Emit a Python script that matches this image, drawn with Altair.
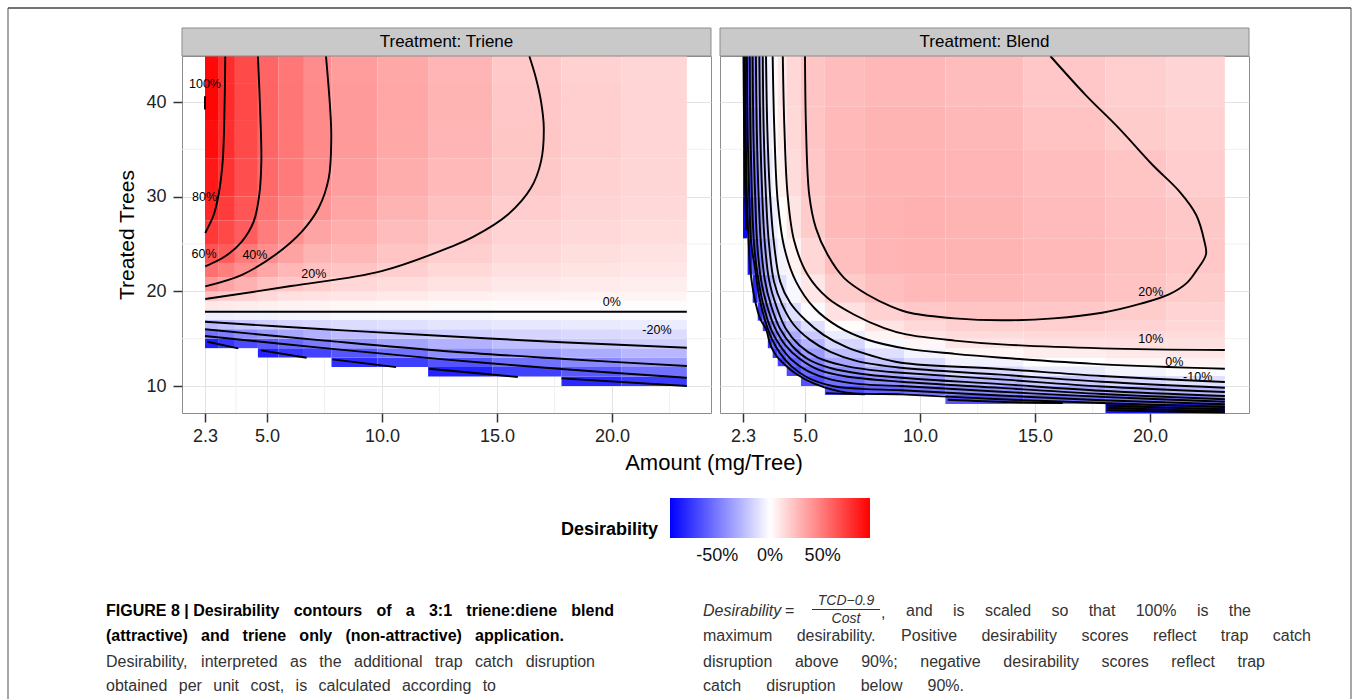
import altair as alt
import pandas as pd

N = None
# ------------------------------------------------------------------ data
X_TICKS = [2.3, 5.0, 10.0, 15.0, 20.0]
Y_TICKS = [10, 20, 30, 40]
X_MINOR = [3.65, 7.5, 12.5, 17.5, 22.5]
Y_MINOR = [15, 25, 35]
X_DOMAIN = [1.3, 24.3]
Y_DOMAIN = [7.15, 44.86]
COLOR_DOMAIN = [-95, 0, 95]
LEGEND_VALUES = [-50, 0, 50]

# Triene desirability (%), rows bottom -> top
TRIENE_X_EDGES = [2.3, 2.9, 3.6, 4.6, 5.5, 6.6, 7.8, 9.8, 12.0, 14.8, 17.8, 20.4, 23.25]
TRIENE_Y_EDGES = [10, 11, 12, 13, 14, 15, 16, 17, 18, 19, 20, 21.5, 23, 25, 27.5, 30, 34, 38, 42, 44.86]
TRIENE_VALUES = [
    [N, N, N, N, N, N, N, N, N, N, -80, -73],
    [N, N, N, N, N, N, N, N, -82, -71, -62, -53],
    [N, N, N, N, N, N, -78, -72, -64, -53, -44, -38],
    [N, N, N, -82, -75, -70, -63, -53, -42, -36, -31, -27],
    [-83, -75, -67, -62, -56, -49, -40, -34, -29, -24, -20, -18],
    [-52, -48, -42, -37, -33, -29, -25, -20, -18, -16, -14, -13],
    [-26, -23, -20, -18, -16, -15, -13, -12, -10, -9, -8, -7],
    [-6, -6, -5, -5, -4, -4, -3, -3, -3, -2, -2, -2],
    [9, 8, 7, 5.5, 5, 4, 3.5, 2.5, 2, 1.6, 1.4, 1.2],
    [23, 20, 17, 14, 12, 10.5, 9.5, 8, 6, 5, 4.3, 3.8],
    [40, 34, 29, 23.5, 21, 18, 15, 12.5, 10.5, 8.5, 7.3, 6.4],
    [53, 48, 41.5, 33, 27, 23, 21.5, 18, 14.5, 11.5, 10, 8.8],
    [64, 61, 50, 42, 34.5, 28, 26.5, 21.5, 18.4, 14, 12.2, 10.8],
    [74, 68, 60.5, 48.5, 41.5, 34, 30.5, 25, 21, 16.5, 14.3, 12.6],
    [81, 73, 63.5, 53, 46, 40, 33.5, 28, 23.5, 18.8, 16, 14],
    [86, 76, 66, 56, 49, 42.5, 36, 31, 26, 20.5, 17.3, 15.2],
    [90, 78, 67.5, 57.5, 50.5, 43.5, 37.5, 32.5, 27.5, 21.2, 18, 15.8],
    [93, 79, 68, 58, 51, 43.5, 37.5, 33, 27.8, 21, 17.8, 15.6],
    [92, 78.5, 67.5, 57.5, 50.5, 43, 37, 32.5, 27.5, 20.3, 17.3, 15.2],
]

# Blend desirability (%), rows bottom -> top
BLEND_X_EDGES = [2.3, 2.5, 2.72, 2.94, 3.16, 3.38, 3.59, 3.81, 4.2, 4.82, 5.86, 7.6, 9.3, 11.1, 14.5, 18.06, 20.7, 23.25]
BLEND_Y_EDGES = [7.15, 8.1, 9.05, 10.0, 11.06, 12.1, 12.96, 14.0, 15.0, 15.8, 16.9, 18.8, 21.75, 25.6, 30.0, 35.0, 39.5, 44.86]
BLEND_VALUES = [
    [N] * 15 + [-88, -85],
    [N] * 13 + [-63, -55, -52, -48],
    [N] * 10 + [-66, -58, -52, -43, -35, -30, -26],
    [N] * 9 + [-65, -53, -43, -36, -27, -20, -15, -11],
    [N] * 8 + [-67, -55, -42, -31, -23, -14, -8, -4, -1],
    [N] * 7 + [-70, -58, -46, -33, -21, -13, -5, 0, 3, 5],
    [N] * 6 + [-72, -60, -49, -37, -24, -12, -4, 3, 7, 8.5, 9],
    [N] * 5 + [-75, -62, -51, -40, -28, -15, -3, 3, 9.5, 11.5, 12, 11.5],
    [N] * 5 + [-65, -53, -42, -31, -20, -7, 4, 10, 13.5, 14.5, 14, 13.5],
    [N] * 4 + [-70, -55, -44, -33, -23, -12, 1, 10, 14, 17.5, 18, 16.5, 15],
    [N] * 3 + [-75, -57, -43, -32, -22, -12, -2, 11, 17, 20, 21.5, 21, 19, 16.5],
    [N] * 2 + [-80, -60, -44, -31, -21, -12, -3, 9, 19, 24, 26, 26.5, 25, 22.5, 19],
    [N] + [-85, -65, -48, -33, -21, -12, -4, 5, 15, 24, 27.5, 28.5, 28, 26, 23.5, 21],
    [-92, -74, -55, -40, -26, -14, -6, 1, 10, 19, 26, 28.5, 29, 28, 25.5, 23, 20.5],
    [-88, -67, -49, -34, -19, -9, -2, 5.5, 13, 21, 26.5, 28.5, 28.5, 27.5, 24.5, 21.5, 18.5],
    [-82, -61, -44, -30, -15, -6, 1, 8, 14.5, 21.5, 26, 28, 28, 26.5, 22.5, 19, 17],
    [-78, -59, -42, -28, -12, -4, 2, 9, 14.8, 21.5, 25, 27, 27, 25, 21, 18, 16],
]

# contour lines (amount, trees)
TRIENE_LINES = {
    "100": [(2.3, 40.6), (2.3, 39.2)],
    "80": [(3.18, 44.86), (3.16, 40.76), (3.07, 33.76), (2.89, 30.2), (2.68, 28.09), (2.31, 26.16)],
    "60": [(4.60, 44.86), (4.70, 39.0), (4.75, 33.73), (4.66, 30.2), (4.42, 27.39), (3.91, 25.28), (3.18, 23.7), (2.31, 22.64)],
    "40": [(7.56, 44.86), (7.75, 39.0), (7.79, 36.19), (7.68, 31.96), (7.24, 28.8), (6.52, 26.34), (5.36, 23.87), (3.91, 21.75), (2.31, 20.53)],
    "20": [(2.31, 19.19), (6.04, 20.56), (9.98, 22.14), (13.04, 24.75), (14.0, 25.8), (15.46, 28.09), (16.47, 30.91), (16.91, 33.73), (17.03, 37.24), (16.91, 40.06), (16.69, 42.52), (16.40, 44.86)],
    "0": [(2.3, 17.85), (23.25, 17.85)],
    "-20": [(2.3, 16.79), (7.5, 16.0), (12.68, 15.28), (17.8, 14.63), (23.25, 14.04)],
    "-40": [(2.3, 15.99), (7.5, 14.8), (12.68, 13.7), (17.8, 12.88), (23.25, 12.11)],
    "-60": [(2.3, 15.28), (7.5, 14.0), (12.68, 12.82), (17.8, 11.8), (23.25, 10.88)],
    "-80a": [(2.4, 14.68), (3.75, 13.98)],
    "-80b": [(4.74, 13.77), (6.72, 12.99)],
    "-80c": [(7.84, 12.82), (10.61, 12.0)],
    "-80d": [(12.03, 11.83), (15.9, 10.95)],
    "-80e": [(17.8, 10.81), (23.25, 10.0)],
}
BLEND_LINES = {
    "20": [(4.996, 44.86), (5.04, 37.24), (5.18, 30.2), (5.47, 26.68), (5.98, 23.86), (6.70, 21.40), (7.72, 19.64), (8.73, 18.42), (9.60, 17.71), (11.5, 17.15), (13.54, 16.94), (15.8, 17.15), (17.91, 17.74), (19.6, 18.7), (20.82, 19.68), (21.6, 20.9), (22.0, 22.14), (22.43, 23.91), (22.36, 25.28), (22.0, 28.09), (21.27, 30.56), (20.1, 33.37), (18.64, 37.24), (17.19, 40.76), (15.66, 44.86)],
    "10": [(4.03, 44.86), (4.10, 37.24), (4.24, 30.2), (4.53, 25.28), (5.11, 21.75), (5.98, 19.29), (7.14, 17.53), (8.44, 16.12), (9.4, 15.45), (11.5, 14.8), (13.54, 14.4), (17.91, 13.98), (23.25, 13.8)],
    "0": [(3.59, 44.86), (3.66, 37.24), (3.81, 29.5), (4.10, 24.57), (4.60, 21.06), (5.40, 18.24), (6.42, 16.3), (7.72, 14.89), (9.4, 13.95), (11.5, 13.4), (13.54, 12.99), (17.91, 12.29), (23.25, 11.83)],
    "-10": [(3.30, 44.86), (3.36, 37), (3.48, 30), (3.65, 25), (3.92, 21), (4.35, 18.8), (5.0, 17.0), (5.8, 15.4), (6.8, 14.1), (7.9, 13.2), (9.17, 12.46), (13.5, 11.8), (17.9, 11.06), (23.25, 10.42)],
    "-20": [(3.16, 44.86), (3.2, 37), (3.3, 30), (3.43, 25), (3.65, 21), (4.0, 18.6), (4.5, 16.5), (5.2, 14.9), (6.1, 13.6), (7.3, 12.6), (9.17, 11.93), (13.5, 11.2), (17.9, 10.45), (23.25, 9.82)],
    "-30": [(3.01, 44.86), (3.05, 37), (3.14, 30), (3.25, 25), (3.44, 21.1), (3.74, 18.5), (4.15, 16.1), (4.75, 14.3), (5.55, 13.0), (6.6, 12.2), (7.8, 11.7), (9.17, 11.4), (13.5, 10.7), (17.9, 9.95), (23.25, 9.37)],
    "-40": [(2.86, 44.86), (2.9, 37), (2.98, 30), (3.08, 25), (3.25, 21.2), (3.52, 18.5), (3.9, 16.1), (4.45, 14.2), (5.15, 12.8), (6.1, 11.9), (7.4, 11.3), (9.17, 10.88), (13.5, 10.2), (17.9, 9.5), (23.25, 8.94)],
    "-50": [(2.72, 44.86), (2.75, 37), (2.83, 30), (2.92, 25), (3.08, 21.3), (3.33, 18.6), (3.68, 16.2), (4.15, 14.3), (4.75, 12.9), (5.6, 11.7), (6.8, 11.0), (9.17, 10.45), (13.5, 9.8), (17.9, 9.15), (23.25, 8.6)],
    "-60": [(2.59, 44.86), (2.62, 37), (2.69, 30), (2.78, 25), (2.95, 21.5), (3.18, 18.6), (3.5, 16.1), (3.9, 14.3), (4.4, 12.8), (5.1, 11.6), (6.1, 10.7), (7.4, 10.2), (9.17, 10.0), (13.5, 9.4), (17.9, 8.85), (23.25, 8.34)],
    "-70": [(2.47, 44.86), (2.5, 37), (2.57, 30), (2.66, 25), (2.82, 22.5), (3.0, 19.5), (3.25, 17.0), (3.55, 15.0), (3.9, 13.5), (4.4, 12.1), (5.1, 10.9), (6.2, 10.0), (7.5, 9.7), (9.17, 9.55), (13.5, 9.0), (17.9, 8.5), (23.25, 8.07)],
    "-80": [(2.38, 44.86), (2.41, 37), (2.47, 30), (2.55, 25), (2.62, 22.2), (2.8, 19.3), (3.05, 17.1), (3.3, 16.0), (3.5, 14.3), (3.75, 13.2), (4.1, 12.3), (4.6, 11.3), (5.4, 10.25), (6.8, 9.3), (9.17, 9.12), (13.5, 8.6), (17.9, 8.2), (23.25, 7.78)],
    "-90a": [(2.32, 44.86), (2.35, 37), (2.4, 30), (2.45, 26.5)],
    "-90b": [(18.1, 7.95), (20.7, 7.72), (23.25, 7.54)],
    "-100": [(18.1, 7.7), (20.7, 7.5), (23.25, 7.33)],
    "-110": [(18.1, 7.45), (20.7, 7.3), (23.25, 7.2)],
    "-90c": [(11.2, 8.55), (13.9, 8.3), (16.2, 8.2)],
    "-90d": [(5.9, 9.25), (7.6, 9.12)],
}
TRIENE_LABELS = [("100%", 2.3, 41.9), ("80%", 2.28, 29.96), ("60%", 2.26, 23.94), ("40%", 4.47, 23.83),
                 ("20%", 7.03, 21.86), ("0%", 19.99, 18.9), ("-20%", 21.95, 15.88)]
BLEND_LABELS = [("20%", 20.03, 19.93), ("10%", 20.03, 15.0), ("0%", 21.05, 12.53), ("-10%", 22.07, 10.98)]

CAPTION_LEFT = [
    "FIGURE\u00a08\u00a0|\u00a0Desirability contours of a 3:1 triene:diene blend",
    "(attractive) and triene only (non-attractive) application.",
    "Desirability, interpreted as the additional trap catch disruption",
    "obtained per unit cost, is calculated according to",
]
CAPTION_RIGHT = [
    "and is scaled so that 100% is the",
    "maximum desirability. Positive desirability scores reflect trap catch",
    "disruption above 90%; negative desirability scores reflect trap",
    "catch disruption below 90%.",
]
FORMULA = ["Desirability", "=", "TCD\u22120.9", "Cost", ","]

# ------------------------------------------------------------------ layout
FONT = "Liberation Sans"
PW, PH = 529, 357          # plot area of each panel
OX, OY = 181, 55           # page position of the Triene plot area
STRIP_H = 28

# Helvetica / Liberation Sans advance widths (1/1000 em)
_REG = dict(zip(" ,.;:%()-|=\u00a0", [278, 278, 278, 278, 278, 889, 333, 333, 333, 260, 584, 278]))
_REG.update({d: 556 for d in "0123456789"})
_REG.update(dict(zip("ABCDEFGHIJKLMNOPQRSTUVWXYZ", [667, 667, 722, 722, 667, 611, 778, 722, 278, 500, 667, 556, 833, 722, 778, 667, 778, 722, 667, 611, 722, 667, 944, 667, 667, 611])))
_REG.update(dict(zip("abcdefghijklmnopqrstuvwxyz", [556, 556, 500, 556, 556, 278, 556, 556, 222, 222, 500, 222, 833, 556, 556, 556, 556, 333, 500, 278, 556, 500, 722, 500, 500, 500])))
_BOLD = dict(zip(" ,.;:%()-|=\u00a0", [278, 278, 278, 333, 333, 889, 333, 333, 333, 280, 584, 278]))
_BOLD.update({d: 556 for d in "0123456789"})
_BOLD.update(dict(zip("ABCDEFGHIJKLMNOPQRSTUVWXYZ", [722, 722, 722, 722, 667, 611, 778, 722, 278, 556, 722, 611, 833, 722, 778, 667, 778, 722, 667, 611, 722, 667, 944, 667, 667, 611])))
_BOLD.update(dict(zip("abcdefghijklmnopqrstuvwxyz", [556, 611, 556, 611, 556, 333, 611, 611, 278, 278, 556, 278, 889, 611, 611, 611, 611, 389, 556, 333, 611, 556, 778, 556, 556, 500])))


def text_w(s, size, bold=False):
    table = _BOLD if bold else _REG
    return sum(table.get(c, 556) for c in s) * size / 1000.0


def justify(line, left, right, y, size, bold):
    words = line.split(" ")
    widths = [text_w(w, size, bold) for w in words]
    gap = (right - left - sum(widths)) / max(len(words) - 1, 1)
    gap = max(gap, 0.25 * size)
    out, x = [], left
    for w, wd in zip(words, widths):
        out.append({"t": w, "px": x - OX, "py": y - OY})
        x += wd + gap
    return out


xs = alt.Scale(domain=X_DOMAIN, nice=False, zero=False)
ys = alt.Scale(domain=Y_DOMAIN, nice=False, zero=False)
cs = alt.Scale(domain=COLOR_DOMAIN, range=["#0000ff", "#ffffff", "#ff0000"], interpolate="rgb", clamp=True)
GRID = "#e3e3e3"


def grid_df(xe, ye, vals):
    rows = []
    for j in range(len(ye) - 1):
        for i in range(len(xe) - 1):
            v = vals[j][i]
            if v is None:
                continue
            rows.append({"x0": xe[i], "x1": xe[i + 1], "y0": ye[j], "y1": ye[j + 1], "d": v})
    return pd.DataFrame(rows)


def lines_df(lines):
    rows = []
    for name, pts in lines.items():
        for i, (x, y) in enumerate(pts):
            rows.append({"line": name, "i": i, "x": x, "y": y})
    return pd.DataFrame(rows)


def x_axis():
    return alt.Axis(values=X_TICKS, format=".1f", title=None, labelFontSize=18, labelColor="#222",
                    tickColor="#333", tickSize=9, tickWidth=1.5, labelPadding=5, domain=False,
                    grid=True, gridColor=GRID, labelFont=FONT)


def y_axis(show):
    if show:
        return alt.Axis(values=Y_TICKS, format="d", title="Treated Trees", titleFontSize=21,
                        titleFontWeight="normal", titleColor="#000", titlePadding=8, titleFont=FONT,
                        labelFontSize=18, labelColor="#222", tickColor="#333", tickSize=9, tickWidth=1.5,
                        labelPadding=7, domain=False, grid=True, gridColor=GRID, labelFont=FONT)
    return alt.Axis(values=Y_TICKS, title=None, labels=False, ticks=False, domain=False, grid=True, gridColor=GRID)


LEGEND = alt.Legend(type="gradient", orient="none", legendX=669 - OX, legendY=497 - OY, direction="horizontal",
                    title=None, gradientLength=200, gradientThickness=40, values=LEGEND_VALUES,
                    labelExpr="datum.value + '%'", labelFontSize=18, labelColor="#111", labelOffset=9,
                    gradientStrokeWidth=0, labelFont=FONT)


def panel(name, xe, ye, vals, lines, labels, show_y):
    g = grid_df(xe, ye, vals)
    heat = alt.Chart(g).mark_rect().encode(
        x=alt.X("x0:Q", scale=xs, axis=x_axis()), x2="x1:Q",
        y=alt.Y("y0:Q", scale=ys, axis=y_axis(show_y)), y2="y1:Q",
        color=alt.Color("d:Q", scale=cs, legend=LEGEND))
    minor_x = alt.Chart(pd.DataFrame({"v": X_MINOR})).mark_rule(color="#f1f1f1", strokeWidth=1).encode(
        x=alt.X("v:Q", scale=xs))
    minor_y = alt.Chart(pd.DataFrame({"v": Y_MINOR})).mark_rule(color="#f1f1f1", strokeWidth=1).encode(
        y=alt.Y("v:Q", scale=ys))
    cl = alt.Chart(lines_df(lines)).mark_line(color="black", strokeWidth=1.9, interpolate="catmull-rom").encode(
        x=alt.X("x:Q", scale=xs), y=alt.Y("y:Q", scale=ys),
        detail="line:N", order="i:Q")
    lab = alt.Chart(pd.DataFrame(labels, columns=["t", "x", "y"])).mark_text(
        fontSize=12.5, color="black", font=FONT).encode(
        x=alt.X("x:Q", scale=xs), y=alt.Y("y:Q", scale=ys), text="t:N")
    one = pd.DataFrame({"t": ["Treatment: " + name]})
    strip = alt.Chart(one).mark_rect(fill="#c9c9c9", stroke="#8c8c8c", strokeWidth=1).encode(
        x=alt.value(0), x2=alt.value(PW), y=alt.value(-STRIP_H), y2=alt.value(0))
    strip_t = alt.Chart(one).mark_text(fontSize=17, color="black", font=FONT).encode(
        x=alt.value(PW / 2), y=alt.value(-STRIP_H / 2), text="t:N")
    return [minor_x, minor_y, heat, cl, lab, strip, strip_t]


def px_text(rows, **kw):
    return alt.Chart(pd.DataFrame(rows)).mark_text(baseline="middle", font=FONT, **kw).encode(
        x=alt.X("px:Q", scale=None), y=alt.Y("py:Q", scale=None), text="t:N")


def px_rules(rows, **kw):
    return alt.Chart(pd.DataFrame(rows)).mark_rule(**kw).encode(
        x=alt.X("px:Q", scale=None), x2="px2:Q",
        y=alt.Y("py:Q", scale=None), y2="py2:Q")


# page decorations (page pixel coordinates converted to Triene plot coordinates)
frame_side = px_rules([
    {"px": 7 - OX, "px2": 7 - OX, "py": 7 - OY, "py2": 698 - OY},
    {"px": 1350 - OX, "px2": 1350 - OX, "py": 7 - OY, "py2": 698 - OY},
], color="#8a8a8a", strokeWidth=1.5)
frame_top = px_rules([{"px": 7 - OX, "px2": 1350 - OX, "py": 7 - OY, "py2": 7 - OY}], color="#444", strokeWidth=1.5)

x_title = px_text([{"t": "Amount (mg/Tree)", "px": 713 - OX, "py": 462 - OY}], fontSize=22, align="center", color="black")
leg_title = px_text([{"t": "Desirability", "px": 657 - OX, "py": 529 - OY}], fontSize=18, fontWeight="bold",
                    align="right", color="black")
leg_ticks = px_rules(
    [{"px": 669 + (v - COLOR_DOMAIN[0]) / (COLOR_DOMAIN[2] - COLOR_DOMAIN[0]) * 200 - OX,
      "px2": 669 + (v - COLOR_DOMAIN[0]) / (COLOR_DOMAIN[2] - COLOR_DOMAIN[0]) * 200 - OX,
      "py": a - OY, "py2": b - OY}
     for v in LEGEND_VALUES for (a, b) in [(497, 505), (529, 537)]],
    color="white", strokeWidth=1)

LEFT_L = 105
LEFT_R = [613, 563, 594, 495]
ROW_Y = [610, 635, 661, 685]
cap_bold, cap_reg = [], []
for k, line in enumerate(CAPTION_LEFT):
    if k < 2:
        cap_bold += justify(line, LEFT_L, LEFT_R[k], ROW_Y[k], 16, True)
    else:
        cap_reg += justify(line, LEFT_L, LEFT_R[k], ROW_Y[k], 16, False)
RIGHT_L = [905, 702, 702, 702]
RIGHT_R = [1250, 1310, 1264, 963]
for k, line in enumerate(CAPTION_RIGHT):
    cap_reg += justify(line, RIGHT_L[k], RIGHT_R[k], ROW_Y[k], 16, False)

cap_b = px_text(cap_bold, fontSize=16, fontWeight="bold", align="left", color="#000")
cap_r = px_text(cap_reg, fontSize=16, align="left", color="#333")
f_it = px_text([{"t": FORMULA[0], "px": 702 - OX, "py": 610 - OY}], fontSize=16, fontStyle="italic",
               align="left", color="#333")
f_eq = px_text([{"t": FORMULA[1], "px": 784 - OX, "py": 610 - OY}, {"t": FORMULA[4], "px": 880 - OX, "py": 612 - OY}],
               fontSize=16, align="left", color="#333")
f_frac = px_text([{"t": FORMULA[2], "px": 845 - OX, "py": 600 - OY}, {"t": FORMULA[3], "px": 845 - OX, "py": 618 - OY}],
                 fontSize=14, fontStyle="italic", align="center", color="#333")
f_bar = px_rules([{"px": 811 - OX, "px2": 879 - OX, "py": 608.5 - OY, "py2": 608.5 - OY}], color="#333", strokeWidth=1)

tri_layers = panel("Triene", TRIENE_X_EDGES, TRIENE_Y_EDGES, TRIENE_VALUES, TRIENE_LINES, TRIENE_LABELS, True)
tri_layers += [frame_side, frame_top, x_title, leg_title, leg_ticks, cap_b, cap_r, f_it, f_eq, f_frac, f_bar]
triene = alt.layer(*tri_layers).properties(width=PW, height=PH)

blend = alt.layer(*panel("Blend", BLEND_X_EDGES, BLEND_Y_EDGES, BLEND_VALUES, BLEND_LINES, BLEND_LABELS, False)
                  ).properties(width=PW, height=PH)

chart = (
    alt.hconcat(triene, blend, spacing=9, bounds="flush")
    .resolve_scale(color="shared")
    .properties(padding={"left": 6, "top": 6, "right": 2, "bottom": 0})
    .configure(font=FONT, background="white")
    .configure_view(stroke="#8c8c8c", strokeWidth=1)
)

chart.save("out.html", embed_options={"renderer": "svg", "actions": False})
